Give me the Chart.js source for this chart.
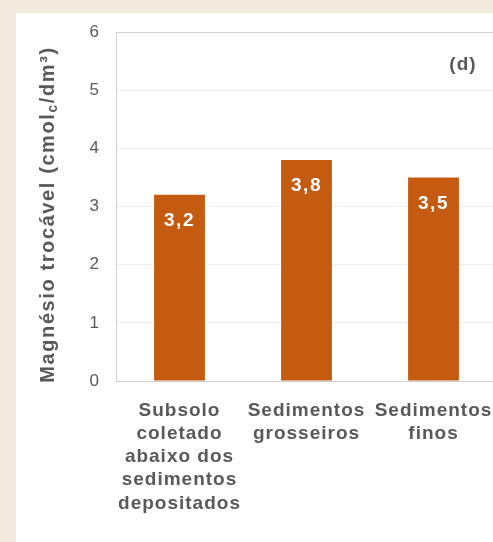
<!DOCTYPE html>
<html>
<head>
<meta charset="utf-8">
<script src="https://cdn.jsdelivr.net/npm/chart.js@4"></script>
<style>
  html, body { margin: 0; padding: 0; }
  body { width: 493px; height: 542px; overflow: hidden; background: #f2e8dd; position: relative; }
  #panel { position: absolute; left: 16px; top: 13px; width: 477px; height: 529px; background: #ffffff; }
  #chart { position: absolute; left: 16px; top: 13px; }
</style>
</head>
<body>
<div id="panel"></div>
<canvas id="chart" width="500" height="529"></canvas>
<script>
const categories = [
    ['Subsolo', 'coletado', 'abaixo dos', 'sedimentos', 'depositados'],
    ['Sedimentos', 'grosseiros'],
    ['Sedimentos', 'finos']
];
const magnesio = [3.2, 3.8, 3.5];
const yMin = 0;
const yMax = 6;
const yStep = 1;

const textGray = '#595959';
const barColor = '#c55a11';
const fontFamily = "'Liberation Sans', Arial, sans-serif";

// wider letter spacing on every text the chart draws
const spacing = {
    id: 'spacing',
    beforeUpdate(chart) { chart.ctx.letterSpacing = '1px'; },
    beforeDraw(chart) { chart.ctx.letterSpacing = '1px'; }
};

// values written inside the top of each bar, decimal comma
const barValues = {
    id: 'barValues',
    afterDatasetsDraw(chart) {
        const ctx = chart.ctx;
        const meta = chart.getDatasetMeta(0);
        ctx.save();
        ctx.font = 'bold 19px ' + fontFamily;
        ctx.letterSpacing = '1.5px';
        ctx.fillStyle = '#ffffff';
        ctx.textAlign = 'center';
        ctx.textBaseline = 'middle';
        meta.data.forEach((bar, i) => {
            ctx.fillText(magnesio[i].toFixed(1).replace('.', ','), bar.x, bar.y + 26);
        });
        ctx.restore();
    }
};

// y axis title with subscript c, plus the panel letter
const titles = {
    id: 'titles',
    afterDraw(chart) {
        const ctx = chart.ctx;
        const area = chart.chartArea;
        const parts = [
            { t: 'Magnésio trocável (cmol', size: 20, dy: 0 },
            { t: 'c', size: 14, dy: 5 },
            { t: '/dm³)', size: 20, dy: 0 }
        ];
        ctx.save();
        ctx.letterSpacing = '1.6px';
        ctx.fillStyle = textGray;
        ctx.textBaseline = 'middle';
        ctx.textAlign = 'left';
        let total = 0;
        parts.forEach(p => {
            ctx.font = 'bold ' + p.size + 'px ' + fontFamily;
            p.w = ctx.measureText(p.t).width;
            total += p.w;
        });
        ctx.translate(32, (area.top + area.bottom) / 2 + 8);
        ctx.rotate(-Math.PI / 2);
        let x = -total / 2;
        parts.forEach(p => {
            ctx.font = 'bold ' + p.size + 'px ' + fontFamily;
            ctx.fillText(p.t, x, p.dy);
            x += p.w;
        });
        ctx.restore();

        ctx.save();
        ctx.font = 'bold 19px ' + fontFamily;
        ctx.fillStyle = textGray;
        ctx.textAlign = 'center';
        ctx.textBaseline = 'middle';
        ctx.fillText('(d)', 447, 52);
        ctx.restore();
    }
};

new Chart(document.getElementById('chart'), {
    type: 'bar',
    data: {
        labels: categories,
        datasets: [{
            data: magnesio,
            backgroundColor: barColor,
            borderWidth: 0,
            barPercentage: 0.4,
            categoryPercentage: 1.0
        }]
    },
    options: {
        responsive: false,
        animation: false,
        layout: { padding: { left: 0, right: 19, top: 19, bottom: 0 } },
        plugins: {
            legend: { display: false },
            tooltip: { enabled: false }
        },
        scales: {
            x: {
                grid: { display: false, drawTicks: false },
                border: { color: '#d0d0d0' },
                ticks: {
                    color: textGray,
                    padding: 18,
                    maxRotation: 0,
                    autoSkip: false,
                    font: { family: fontFamily, size: 19, weight: 'bold', lineHeight: 1.22 }
                },
                afterFit(axis) { axis.height = 161; }
            },
            y: {
                min: yMin,
                max: yMax,
                grid: {
                    drawTicks: false,
                    color: ctx => ctx.tick && ctx.tick.value === yMax ? '#d0d0d0' : '#eeeeee'
                },
                border: { color: '#d0d0d0' },
                ticks: {
                    stepSize: yStep,
                    color: textGray,
                    padding: 16,
                    font: { family: fontFamily, size: 17 }
                },
                afterFit(axis) {
                    axis.width = 100;
                    axis.paddingTop = 0;
                    axis.paddingBottom = 0;
                }
            }
        }
    },
    plugins: [spacing, barValues, titles]
});
</script>
</body>
</html>
